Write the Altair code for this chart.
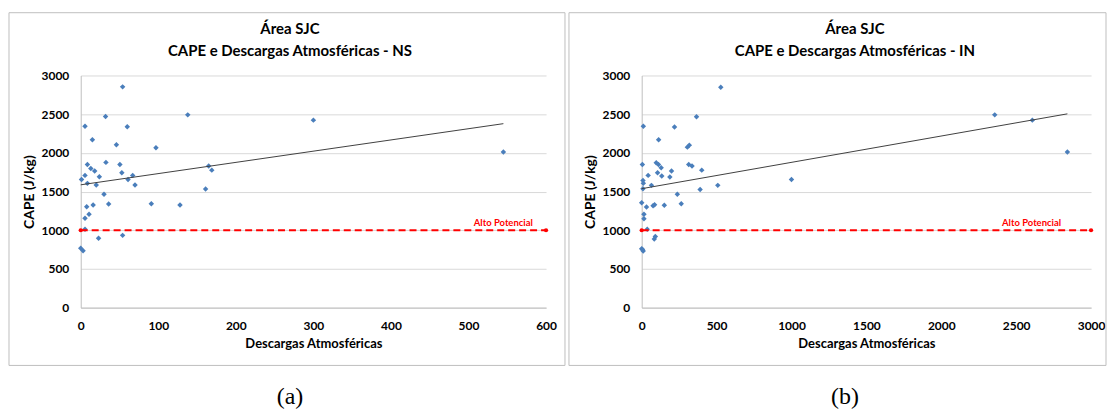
import altair as alt
import pandas as pd

# ---------------- data ----------------
ns_descargas = [54, 32, 5.5, 60, 15, 46, 97, 32.5, 8.6, 50.5, 13, 18, 53, 5.5, 24, 67, 1, 61, 8.6, 20,
                70, 30, 7.7, 16, 36, 91, 128, 5.5, 10.7, 5.5, 23, 54, 0, 3, 138, 161, 165, 169, 300, 545]
ns_cape = [2853, 2471, 2345, 2337, 2169, 2104, 2066, 1877, 1851, 1851, 1799, 1765, 1743, 1709, 1691, 1709,
           1657, 1657, 1606, 1584, 1584, 1464, 1304, 1326, 1339, 1343, 1326, 1154, 1206, 1012, 896, 934,
           767, 736, 2491, 1532, 1829, 1777, 2423, 2010]

in_descargas = [528, 11, 366, 219, 113, 305, 318, 4.5, 97, 112, 130, 43, 106, 134, 199, 188, 314, 336, 401,
                8.6, 11, 65, 8.6, 390, 508, 238, 0, 32, 76, 86, 151, 264, 15, 15, 37, 91, 84, 0, 10, 5,
                1000, 2357, 2608, 2842]
in_cape = [2849, 2345, 2466, 2333, 2169, 2074, 2100, 1851, 1872, 1851, 1807, 1709, 1743, 1700, 1765, 1687,
           1851, 1829, 1777, 1644, 1606, 1580, 1536, 1528, 1580, 1464, 1355, 1300, 1317, 1330, 1322, 1343,
           1206, 1149, 1012, 920, 886, 762, 732, 750, 1657, 2491, 2423, 2010]

limiar_cape = 1000          # "Alto Potencial"
ns_xmax = 600
in_xmax = 3000
y_ticks = [0, 500, 1000, 1500, 2000, 2500, 3000]
ns_x_ticks = [0, 100, 200, 300, 400, 500, 600]
in_x_ticks = [0, 500, 1000, 1500, 2000, 2500, 3000]
ns_label_x = 583
in_label_x = 2800

FONT = "Lato"
H = 233
BLUE = "#4A7EBB"
RED = "#FF0000"
GRID = "#D9D9D9"
BORDER = "#BFBFBF"


def panel(xs, ys, xmax, xticks, label_x, width, suffix, sub, title_cx, sub_cx, box_left, box_right):
    df = pd.DataFrame({"x": xs, "y": ys})
    dummy = pd.DataFrame({"k": [0]})
    xscale = alt.Scale(domain=[0, xmax], nice=False, zero=True)
    yscale = alt.Scale(domain=[0, 3000], nice=False)
    xaxis = alt.Axis(values=xticks, title="Descargas Atmosféricas", grid=False, ticks=False, tickSize=0,
                     labelFlush=False, labelPadding=13, titlePadding=6, domainColor=BORDER,
                     labelFont=FONT, labelFontSize=12, labelFontWeight="bold", labelColor="#000000",
                     titleFont=FONT, titleFontSize=13, titleFontWeight="bold", titleColor="#000000",
                     format="d")
    yaxis = alt.Axis(values=y_ticks, title="CAPE (J/kg)", grid=True, gridColor=GRID, ticks=False, tickSize=0,
                     labelPadding=12, titlePadding=5, domainColor=BORDER, labelFlush=False,
                     labelFont=FONT, labelFontSize=12, labelFontWeight="bold", labelColor="#000000",
                     titleFont=FONT, titleFontSize=14, titleFontWeight="bold", titleColor="#000000",
                     format="d")
    X = alt.X("x:Q", scale=xscale, axis=xaxis)
    Y = alt.Y("y:Q", scale=yscale, axis=yaxis)

    border = alt.Chart(dummy).mark_rect(filled=False, stroke=BORDER, strokeWidth=1).encode(
        x=alt.value(box_left), x2=alt.value(width + box_right), y=alt.value(-63), y2=alt.value(H + 58))

    t1 = alt.Chart(dummy).mark_text(text="Área SJC", font=FONT, fontSize=15, fontWeight="bold",
                                    color="#000000", baseline="middle", align="center").encode(
        x=alt.value(title_cx), y=alt.value(-47))
    t2 = alt.Chart(dummy).mark_text(text="CAPE e Descargas Atmosféricas - " + suffix, font=FONT, fontSize=15,
                                    fontWeight="bold", color="#000000", baseline="middle", align="center").encode(
        x=alt.value(title_cx), y=alt.value(-25))

    pts = alt.Chart(df).mark_point(shape="diamond", filled=True, size=30, color=BLUE, opacity=1).encode(
        x=X, y=Y)

    trend = alt.Chart(df).transform_regression("x", "y").mark_line(color="#404040", strokeWidth=1).encode(
        x=X, y=Y)

    ref = pd.DataFrame({"x": [0, xmax], "y": [limiar_cape, limiar_cape]})
    redline = alt.Chart(ref).mark_line(color=RED, strokeWidth=2, strokeDash=[7, 4]).encode(x=X, y=Y)
    reddots = alt.Chart(ref).mark_point(shape="circle", filled=True, size=18, color=RED, opacity=1).encode(
        x=X, y=Y)

    lab = pd.DataFrame({"x": [label_x], "y": [limiar_cape], "t": ["Alto Potencial"]})
    label = alt.Chart(lab).mark_text(font=FONT, fontSize=9.5, fontWeight="bold", color=RED,
                                     align="right", baseline="bottom", dy=-2).encode(
        x=X, y=Y, text="t:N")

    subl = alt.Chart(dummy).mark_text(text=sub, font="Liberation Serif", fontSize=24, color="#000000",
                                      baseline="alphabetic", align="center").encode(
        x=alt.value(sub_cx), y=alt.value(H + 97))

    return alt.layer(pts, trend, redline, reddots, label, border, t1, t2, subl).properties(
        width=width, height=H)


pa = panel(ns_descargas, ns_cape, ns_xmax, ns_x_ticks, ns_label_x, 467, "NS", "(a)", 210, 210, -72, 19)
pb = panel(in_descargas, in_cape, in_xmax, in_x_ticks, in_label_x, 451, "IN", "(b)", 214, 204, -73, 15)

chart = alt.hconcat(pa, pb, spacing=2).properties(
    padding={"left": 0, "top": 3, "right": 0, "bottom": 0},
    background="white",
).configure_view(strokeWidth=0)

chart.save("out.html", embed_options={"renderer": "svg", "actions": False})
